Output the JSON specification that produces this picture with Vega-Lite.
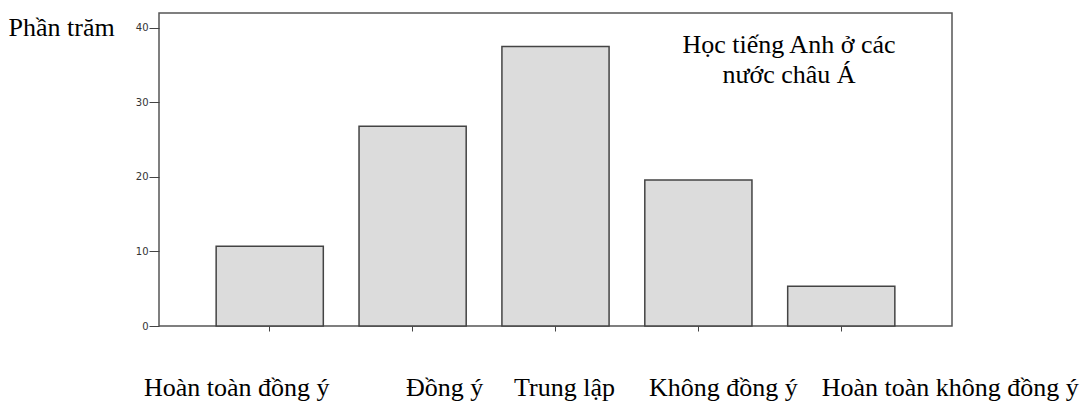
{
  "$schema": "https://vega.github.io/schema/vega-lite/v6.json",
  "width": 793,
  "height": 313,
  "autosize": {"type": "none"},
  "padding": {"left": 159, "top": 13, "right": 139, "bottom": 82},
  "background": "white",
  "title": {
    "text": ["Học tiếng Anh ở các", "nước châu Á"],
    "orient": "top",
    "anchor": "start",
    "frame": "group",
    "offset": 0,
    "dx": 630,
    "dy": 96,
    "align": "center",
    "baseline": "alphabetic",
    "font": "Liberation Serif",
    "fontSize": 26,
    "fontWeight": "normal",
    "color": "black",
    "lineHeight": 30.5
  },
  "data": {
    "values": [
      {"response": "Hoàn toàn đồng ý", "percent": 10.7},
      {"response": "Đồng ý", "percent": 26.8},
      {"response": "Trung lập", "percent": 37.5},
      {"response": "Không đồng ý", "percent": 19.6},
      {"response": "Hoàn toàn không đồng ý", "percent": 5.35}
    ]
  },
  "mark": {"type": "bar", "fill": "#dcdcdc", "stroke": "#444444", "strokeWidth": 1.5},
  "encoding": {
    "x": {
      "field": "response",
      "type": "nominal",
      "sort": null,
      "scale": {"paddingInner": 0.25, "paddingOuter": 0.4},
      "axis": {
        "title": null,
        "domain": false,
        "grid": false,
        "ticks": true,
        "tickSize": 5,
        "tickColor": "#444444",
        "labelFont": "Liberation Serif",
        "labelFontSize": 26,
        "labelColor": "black",
        "labelBaseline": "alphabetic",
        "labelPadding": 64,
        "labelAngle": 0,
        "labelOverlap": false,
        "labelBound": false,
        "labelFlush": false,
        "labelLimit": 500,
        "labelOffset": {
          "condition": [
            {"test": "datum.value === 'Hoàn toàn đồng ý'", "value": -33},
            {"test": "datum.value === 'Đồng ý'", "value": 32},
            {"test": "datum.value === 'Trung lập'", "value": 9},
            {"test": "datum.value === 'Không đồng ý'", "value": 25},
            {"test": "datum.value === 'Hoàn toàn không đồng ý'", "value": 109}
          ],
          "value": 0
        }
      }
    },
    "y": {
      "field": "percent",
      "type": "quantitative",
      "scale": {"domain": [0, 42], "nice": false, "zero": true},
      "axis": {
        "title": "Phần trăm",
        "titleFont": "Liberation Serif",
        "titleFontSize": 26,
        "titleFontWeight": "normal",
        "titleColor": "black",
        "titleAngle": 0,
        "titleAlign": "left",
        "titleBaseline": "alphabetic",
        "titleX": -151,
        "titleY": 22,
        "values": [0, 10, 20, 30, 40],
        "domain": false,
        "grid": false,
        "tickSize": 10,
        "tickColor": "#444444",
        "labelFont": "DejaVu Sans",
        "labelFontSize": 10,
        "labelColor": "#333333",
        "labelPadding": 1
      }
    }
  },
  "config": {"view": {"stroke": "#555555", "strokeWidth": 1.5}}
}
